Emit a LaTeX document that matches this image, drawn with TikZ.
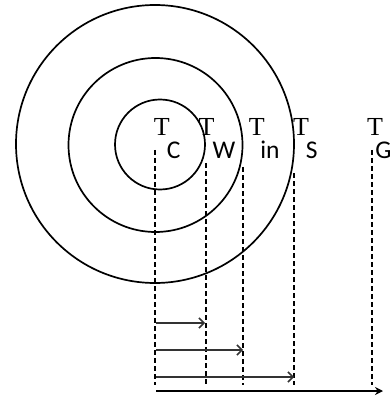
\documentclass[tikz,border=0pt]{standalone}
\usepackage{fontspec}
\newfontfamily\serifT{Liberation Serif}
\newfontfamily\subf{Carlito}
\usetikzlibrary{arrows.meta}
\begin{document}
\begin{tikzpicture}[x=1pt,y=-1pt,
  ring/.style={line width=1.7pt},
  guide/.style={dash pattern=on 5pt off 3pt, line width=1.5pt},
  flux/.style={line width=1.5pt, draw=black!80, -{Straight Barb[length=5pt,width=10pt,line width=1.5pt]}},
  axis/.style={line width=1.5pt, -{Stealth[length=8pt,width=8pt]}},
  tlab/.style={font=\serifT\fontsize{26}{26}\selectfont, inner sep=0pt, anchor=base},
  sublab/.style={font=\subf\fontsize{25.5}{25.5}\selectfont, inner sep=0pt, anchor=base}]
\useasboundingbox (0,0) rectangle (391,403);
% rings
\draw[ring] (155,144) circle[radius=139pt];
\draw[ring] (155.5,145) circle[radius=87pt];
\draw[ring] (160,144.5) circle[radius=45pt];
% labels
\node[tlab] (tc) at (161.7,136) {T};
\node[sublab] (tcs) at (173.7,158.5) {C};
\node[tlab] (tw) at (206.5,136) {T};
\node[sublab] (tws) at (224,158.5) {W};
\node[tlab] (tin) at (256.7,136) {T};
\node[sublab] (tins) at (270,158.5) {in};
\node[tlab] (ts) at (301,136) {T};
\node[sublab] (tss) at (311.7,158.5) {S};
\node[tlab] (tg) at (375,136) {T};
\node[sublab] (tgs) at (383.5,158.5) {G};
% guide coordinates
\coordinate (c0) at (155,150); \coordinate (c1) at (155,385);
\coordinate (w0) at (206,163); \coordinate (w1) at (206,385);
\coordinate (i0) at (243,167); \coordinate (i1) at (243,385);
\coordinate (s0) at (294,173); \coordinate (s1) at (294,385);
\coordinate (g0) at (372,150); \coordinate (g1) at (372,385);
\draw[guide] (c0) -- (c1);
\draw[guide] (w0) -- (w1);
\draw[guide] (i0) -- (i1);
\draw[guide] (s0) -- (s1);
\draw[guide] (g0) -- (g1);
% arrows
\coordinate (a1s) at (156,323); \coordinate (a1e) at (205,323);
\coordinate (a2s) at (156,350); \coordinate (a2e) at (243,350);
\coordinate (a3s) at (156,377); \coordinate (a3e) at (294,377);
\coordinate (xs) at (156,391); \coordinate (xe) at (383,391);
\draw[flux] (a1s) -- (a1e);
\draw[flux] (a2s) -- (a2e);
\draw[flux] (a3s) -- (a3e);
\draw[axis] (xs) -- (xe);
\end{tikzpicture}
\end{document}
